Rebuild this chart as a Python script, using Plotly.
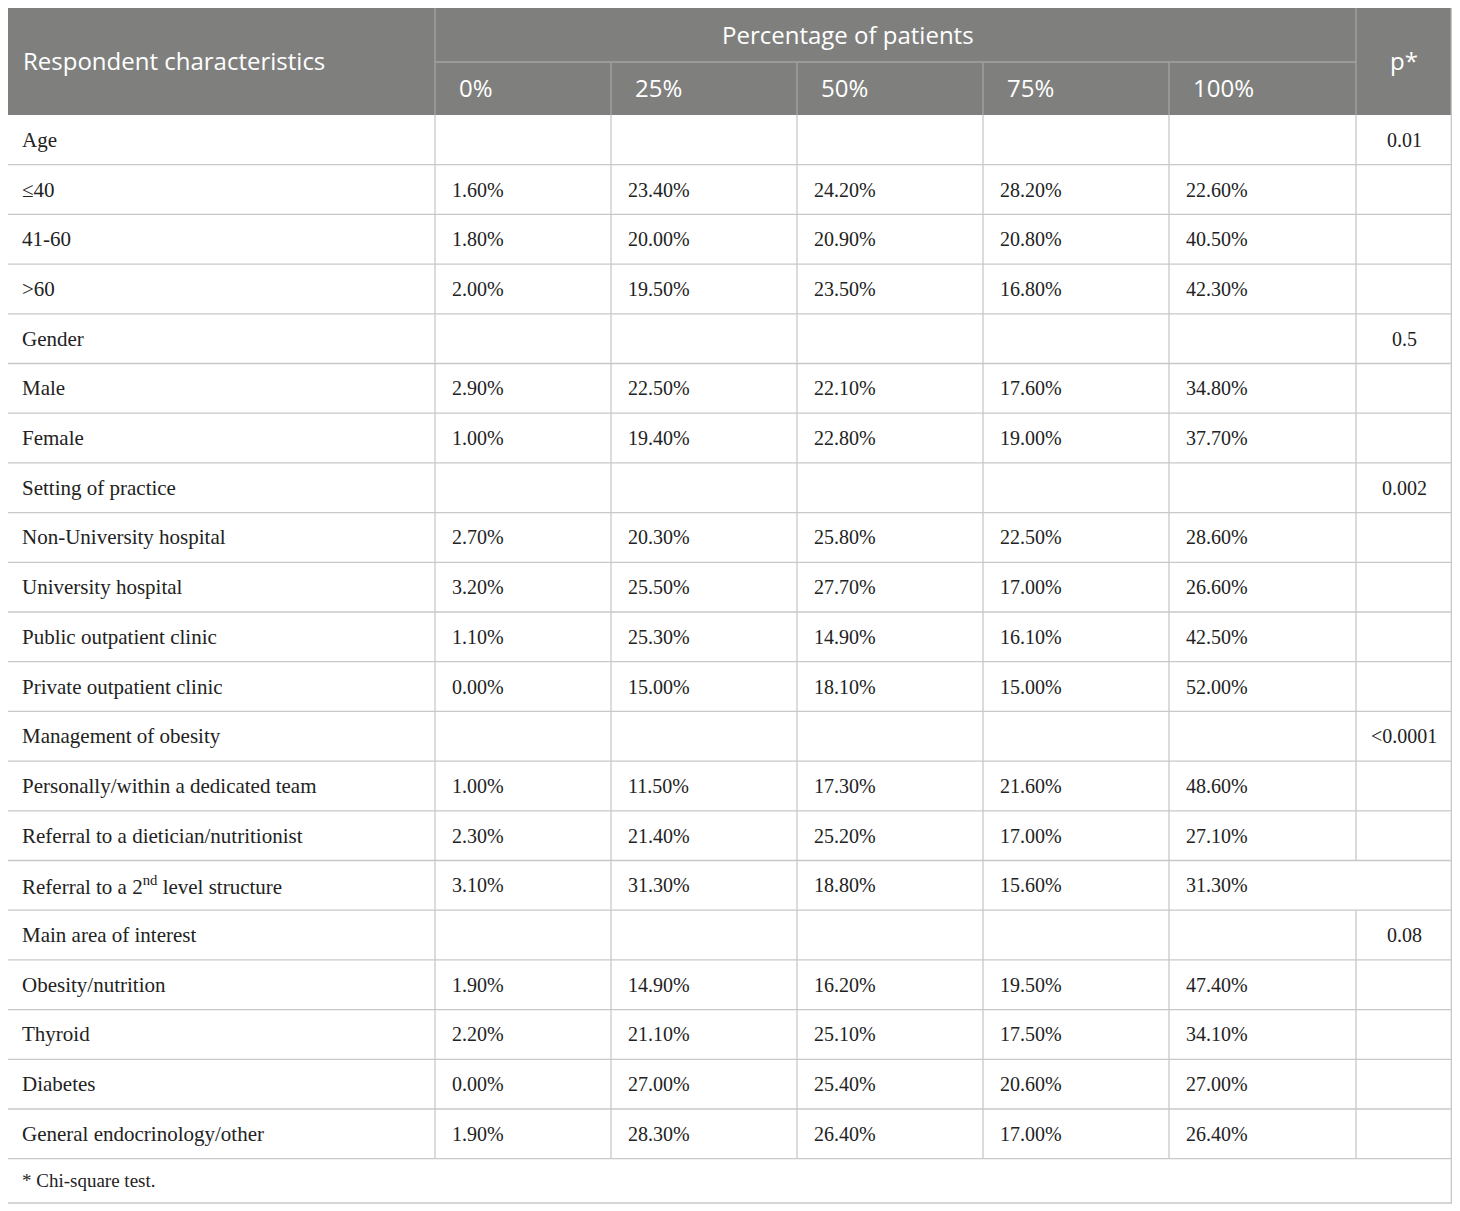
import plotly.graph_objects as go

# Table content
row_labels = [
    "Age", "≤40", "41-60", ">60",
    "Gender", "Male", "Female",
    "Setting of practice", "Non-University hospital", "University hospital",
    "Public outpatient clinic", "Private outpatient clinic",
    "Management of obesity", "Personally/within a dedicated team",
    "Referral to a dietician/nutritionist",
    "Referral to a 2<sup>nd</sup> level structure",
    "Main area of interest", "Obesity/nutrition", "Thyroid", "Diabetes",
    "General endocrinology/other",
]
pct_0 = ["", "1.60%", "1.80%", "2.00%", "", "2.90%", "1.00%", "", "2.70%", "3.20%", "1.10%",
         "0.00%", "", "1.00%", "2.30%", "3.10%", "", "1.90%", "2.20%", "0.00%", "1.90%"]
pct_25 = ["", "23.40%", "20.00%", "19.50%", "", "22.50%", "19.40%", "", "20.30%", "25.50%", "25.30%",
          "15.00%", "", "11.50%", "21.40%", "31.30%", "", "14.90%", "21.10%", "27.00%", "28.30%"]
pct_50 = ["", "24.20%", "20.90%", "23.50%", "", "22.10%", "22.80%", "", "25.80%", "27.70%", "14.90%",
          "18.10%", "", "17.30%", "25.20%", "18.80%", "", "16.20%", "25.10%", "25.40%", "26.40%"]
pct_75 = ["", "28.20%", "20.80%", "16.80%", "", "17.60%", "19.00%", "", "22.50%", "17.00%", "16.10%",
          "15.00%", "", "21.60%", "17.00%", "15.60%", "", "19.50%", "17.50%", "20.60%", "17.00%"]
pct_100 = ["", "22.60%", "40.50%", "42.30%", "", "34.80%", "37.70%", "", "28.60%", "26.60%", "42.50%",
           "52.00%", "", "48.60%", "27.10%", "31.30%", "", "47.40%", "34.10%", "27.00%", "26.40%"]
p_values = ["0.01", "", "", "", "0.5", "", "", "0.002", "", "", "",
            "", "<0.0001", "", "", "", "0.08", "", "", "", ""]
sub_headers = ["0%", "25%", "50%", "75%", "100%"]
footnote = "* Chi-square test."

# Layout geometry (page pixels; the plot div sits 8px in from the page corner)
W, H = 1460, 1211
OFF = 8
col_edges = [7, 435, 611, 797, 983, 1169, 1356, 1452]
top, head_mid, head_bot = 8, 62, 115
row_h = 49.7
foot_bot = 1203

HEAD_FILL = "#7f807e"
HEAD_LINE = "#a3a3a3"
GRID = "#c8c8c8"
SANS = "Open Sans, sans-serif"
SERIF = "Liberation Serif, Times New Roman, serif"
HEAD_SIZE = 24
LABEL_SIZE = 21
NUM_SIZE = 20

fig = go.Figure()
shapes = []
ann = []


def hline(x0, x1, y, color=GRID):
    shapes.append(dict(type="line", x0=x0, x1=x1, y0=y, y1=y, line=dict(color=color, width=1.3)))


def vline(x, y0, y1, color=GRID):
    shapes.append(dict(type="line", x0=x, x1=x, y0=y0, y1=y1, line=dict(color=color, width=1.3)))


def text(x, y, s, size, family, color="#222", anchor="left"):
    ann.append(dict(x=x, y=y, text=s, showarrow=False, xanchor=anchor, yanchor="middle",
                    font=dict(size=size, family=family, color=color)))


# header block
shapes.append(dict(type="rect", x0=col_edges[0], x1=col_edges[-1], y0=top, y1=head_bot,
                   fillcolor=HEAD_FILL, line=dict(width=0), layer="below"))
hline(col_edges[1], col_edges[6], head_mid, HEAD_LINE)
vline(col_edges[1], top, head_bot, HEAD_LINE)
vline(col_edges[6], top, head_bot, HEAD_LINE)
for x in col_edges[2:6]:
    vline(x, head_mid, head_bot, HEAD_LINE)

text(21, (top + head_bot) / 2 - 1, "Respondent characteristics", HEAD_SIZE, SANS, "white")
text(848, (top + head_mid) / 2 - 1, "Percentage of patients", HEAD_SIZE, SANS, "white", "center")
text((col_edges[6] + col_edges[7]) / 2, (top + head_bot) / 2 - 1, "p*", HEAD_SIZE, SANS, "white", "center")
for i, h in enumerate(sub_headers):
    text(col_edges[i + 1] + 22, (head_mid + head_bot) / 2 - 1, h, HEAD_SIZE, SANS, "white")

# body rows
columns = [pct_0, pct_25, pct_50, pct_75, pct_100]
n = len(row_labels)
for r in range(n):
    y0 = head_bot + r * row_h
    y1 = y0 + row_h
    yc = (y0 + y1) / 2
    hline(col_edges[0], col_edges[-1], y1)
    for x in col_edges[1:6]:
        vline(x, y0, y1)
    # the p column divider is absent on the "2nd level structure" row
    if "2<sup>nd" not in row_labels[r]:
        vline(col_edges[6], y0, y1)
    text(col_edges[0] + 13, yc, row_labels[r], LABEL_SIZE, SERIF)
    for j, col in enumerate(columns):
        if col[r]:
            text(col_edges[j + 1] + 15, yc, col[r], NUM_SIZE, SERIF)
    if p_values[r]:
        text((col_edges[6] + col_edges[7]) / 2, yc, p_values[r], NUM_SIZE, SERIF, anchor="center")

body_bot = head_bot + n * row_h
text(col_edges[0] + 13, (body_bot + foot_bot) / 2, footnote, 19, SERIF)

# outer border
vline(col_edges[0], top, foot_bot)
vline(col_edges[-1] - 0.7, top, foot_bot)
hline(col_edges[0], col_edges[-1], foot_bot)

fig.update_layout(
    width=W - OFF, height=H - OFF,
    margin=dict(l=0, r=0, t=0, b=0),
    plot_bgcolor="white", paper_bgcolor="white",
    xaxis=dict(range=[OFF, W], visible=False, fixedrange=True),
    yaxis=dict(range=[H, OFF], visible=False, fixedrange=True),
    shapes=shapes, annotations=ann,
    showlegend=False,
)

fig.write_html("out.html")
